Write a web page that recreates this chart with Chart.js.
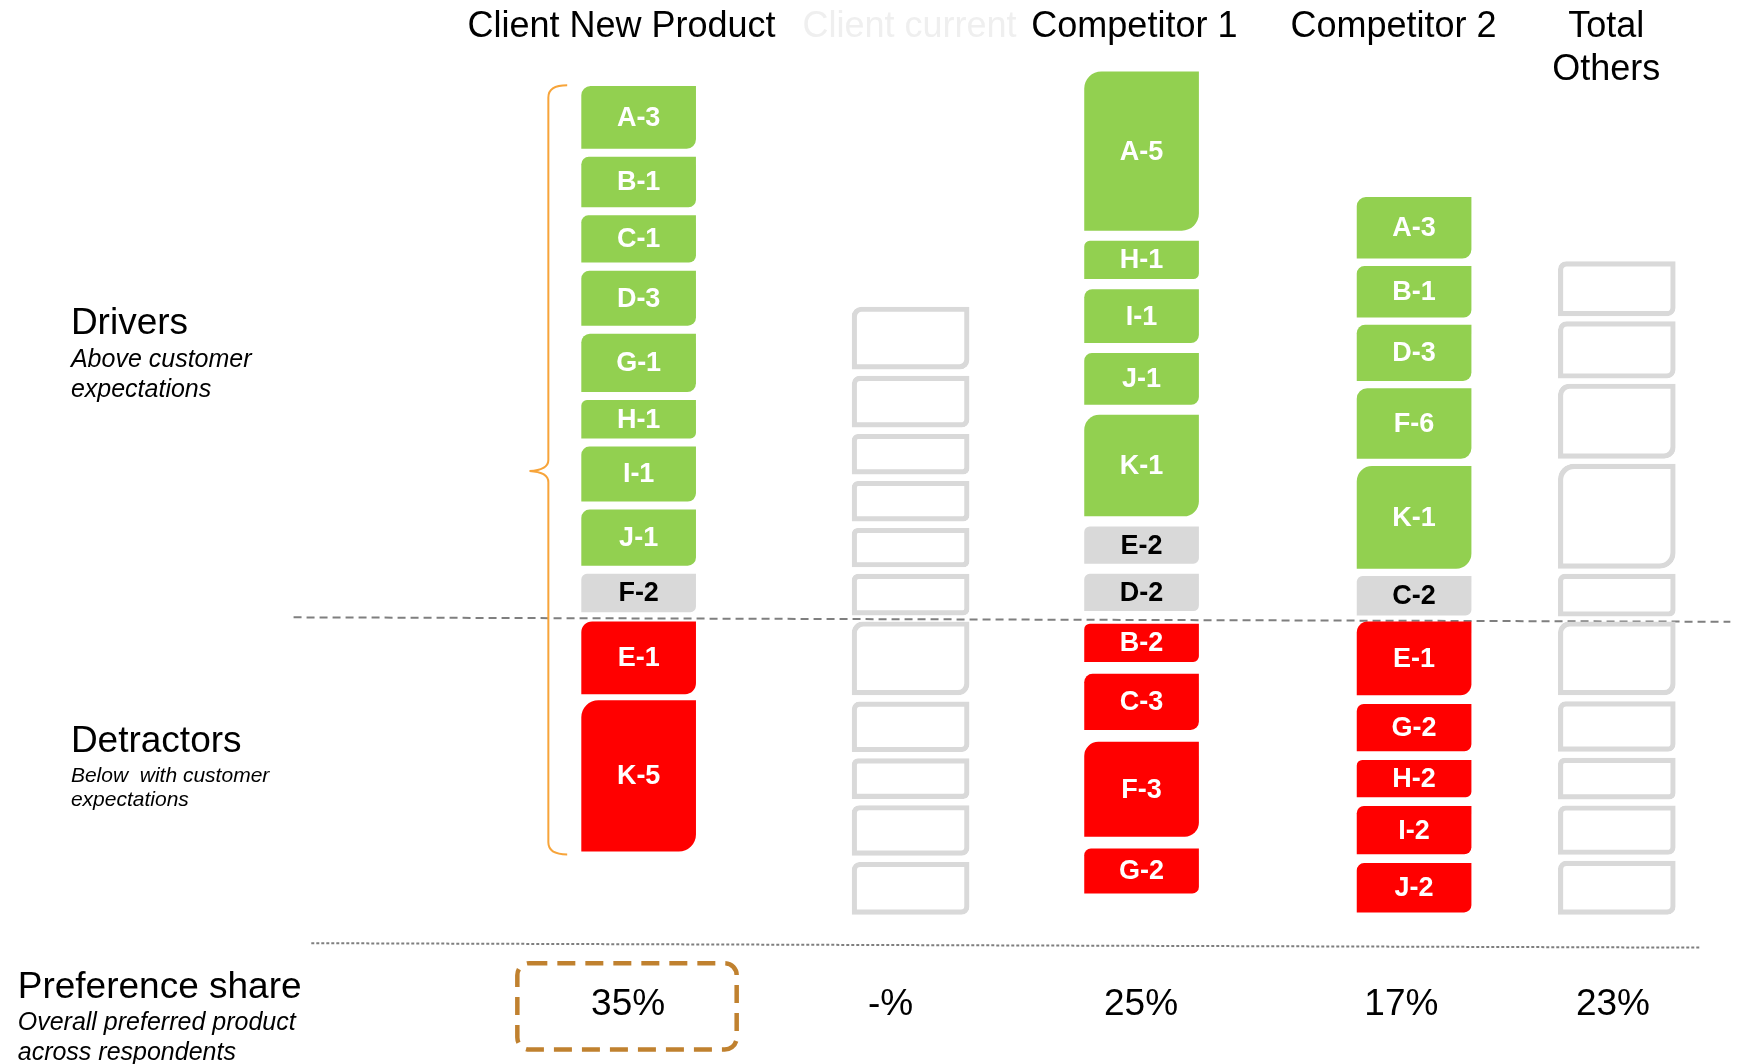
<!DOCTYPE html>
<html>
<head>
<meta charset="utf-8">
<script src="https://cdn.jsdelivr.net/npm/chart.js@4/dist/chart.umd.min.js"></script>
<style>
  html, body { margin: 0; background: #fff; }
  #wrap { width: 1737px; height: 1064px; }
</style>
</head>
<body>
<div id="wrap"><canvas id="chart"></canvas></div>
<script>
const columns = ['Client New Product', 'Client current', 'Competitor 1', 'Competitor 2', ['Total', 'Others']];
const shares = ['35%', '-%', '25%', '17%', '23%'];

// tiles top -> bottom. kind: g = driver, n = neutral, r = detractor
const newLabels = ['A-3', 'B-1', 'C-1', 'D-3', 'G-1', 'H-1', 'I-1', 'J-1', 'F-2', 'E-1', 'K-5'];
const newSizes  = [56, 45, 42, 49, 52, 34, 49, 50, 34, 65, 136];
const newKinds  = ['g', 'g', 'g', 'g', 'g', 'g', 'g', 'g', 'n', 'r', 'r'];

const currentLabels = ['', '', '', '', '', '', '', '', '', '', ''];
const currentSizes  = [56, 46, 36, 36, 35, 37, 66, 45, 36, 45, 47];
const currentKinds  = ['g', 'g', 'g', 'g', 'g', 'g', 'r', 'r', 'r', 'r', 'r'];

const comp1Labels = ['A-5', 'H-1', 'I-1', 'J-1', 'K-1', 'E-2', 'D-2', 'B-2', 'C-3', 'F-3', 'G-2'];
const comp1Sizes  = [143, 34, 48, 46, 91, 33, 33, 34, 50, 85, 40];
const comp1Kinds  = ['g', 'g', 'g', 'g', 'g', 'n', 'n', 'r', 'r', 'r', 'r'];

const comp2Labels = ['A-3', 'B-1', 'D-3', 'F-6', 'K-1', 'C-2', 'E-1', 'G-2', 'H-2', 'I-2', 'J-2'];
const comp2Sizes  = [55, 46, 50, 63, 92, 35, 66, 42, 33, 43, 44];
const comp2Kinds  = ['g', 'g', 'g', 'g', 'g', 'n', 'r', 'r', 'r', 'r', 'r'];

const othersLabels = ['', '', '', '', '', '', '', '', '', ''];
const othersSizes  = [49, 51, 67, 94, 38, 66, 45, 37, 44, 48];
const othersKinds  = ['g', 'g', 'g', 'g', 'g', 'r', 'r', 'r', 'r', 'r'];

// ---- layout (in units of a 1568 x 960 page) ----
const W = 1568, H = 960;
const colX = [576.5, 822, 1030.5, 1276.5, 1459.5];
const hollow = [false, true, false, false, true];
const upBase = [552, 555, 551, 555, 556];
const downBase = [561, 561, 563, 561, 561];
const gapUp = [7.9, 6.4, 9.7, 7.2, 5.25];
const gapDown = [6, 6.25, 11.3, 8.5, 6];
const headX = [561, 821, 1024, 1258, 1450];
const headColor = ['#000', '#efefef', '#000', '#000', '#000'];
const shareX = [567, 804, 1030, 1265, 1456];
const fills = { g: '#92d050', n: '#d9d9d9', r: '#ff0000' };
const FONT = '"Liberation Sans", Arial, sans-serif';

const series = [
  [newLabels, newSizes, newKinds],
  [currentLabels, currentSizes, currentKinds],
  [comp1Labels, comp1Sizes, comp1Kinds],
  [comp2Labels, comp2Sizes, comp2Kinds],
  [othersLabels, othersSizes, othersKinds],
];

function stackTiles(sizes, kinds, c) {
  const out = new Array(sizes.length);
  const up = [], down = [];
  sizes.forEach((s, i) => (kinds[i] === 'r' ? down : up).push(i));
  let y = upBase[c];
  for (let j = up.length - 1; j >= 0; j--) {
    const i = up[j];
    out[i] = { x: colX[c], y: [y - sizes[i], y] };
    y -= sizes[i] + gapUp[c];
  }
  y = downBase[c];
  down.forEach(i => {
    out[i] = { x: colX[c], y: [y, y + sizes[i]] };
    y += sizes[i] + gapDown[c];
  });
  return out;
}

const datasets = series.map(([labels, sizes, kinds], c) => ({
  label: Array.isArray(columns[c]) ? columns[c].join(' ') : columns[c],
  data: stackTiles(sizes, kinds, c),
  tileLabels: labels,
  tileKinds: kinds,
  backgroundColor: hollow[c] ? 'rgba(0,0,0,0)' : kinds.map(k => fills[k]),
  borderColor: '#d9d9d9',
  borderWidth: hollow[c] ? 4.5 : 0,
  borderSkipped: false,
  barThickness: hollow[c] ? 117 : 114,
  grouped: false,
  borderRadius: ctx => {
    const ys = ctx.chart.scales.y;
    const h = Math.abs(ys.getPixelForValue(0) - ys.getPixelForValue(sizes[ctx.dataIndex] || 0));
    const r = Math.min(h, 114) * 0.15;
    return { topLeft: r, topRight: 0, bottomLeft: 0, bottomRight: r };
  },
}));

function text(ctx, s, x, y, font, color, align) {
  ctx.font = font;
  ctx.fillStyle = color;
  ctx.textAlign = align || 'left';
  ctx.textBaseline = 'middle';
  ctx.fillText(s, x, y);
}

const decor = {
  id: 'decor',
  beforeDatasetsDraw(chart) {
    const { ctx, scales: { x, y } } = chart;
    ctx.save();
    ctx.strokeStyle = '#7f7f7f';
    ctx.lineWidth = 2;
    ctx.setLineDash([8, 5]);
    ctx.beginPath();
    ctx.moveTo(x.getPixelForValue(265), y.getPixelForValue(557));
    ctx.lineTo(x.getPixelForValue(1562), y.getPixelForValue(561));
    ctx.stroke();
    ctx.setLineDash([3, 2]);
    ctx.beginPath();
    ctx.moveTo(x.getPixelForValue(281), y.getPixelForValue(851));
    ctx.lineTo(x.getPixelForValue(1535), y.getPixelForValue(855));
    ctx.stroke();
    ctx.restore();
  },
  afterDatasetsDraw(chart) {
    const { ctx } = chart;
    ctx.save();
    chart.data.datasets.forEach((ds, d) => {
      chart.getDatasetMeta(d).data.forEach((el, i) => {
        const s = ds.tileLabels[i];
        if (!s) return;
        const col = ds.tileKinds[i] === 'n' ? '#000' : '#fff';
        text(ctx, s, el.x, (el.y + el.base) / 2 + 1, 'bold 27px ' + FONT, col, 'center');
      });
    });
    ctx.restore();
  },
  afterDraw(chart) {
    const { ctx, scales: { x, y } } = chart;
    const X = v => x.getPixelForValue(v), Y = v => y.getPixelForValue(v);
    ctx.save();

    // column headers
    columns.forEach((c, i) => {
      const lines = Array.isArray(c) ? c : [c];
      lines.forEach((l, k) => text(ctx, l, X(headX[i]), Y(24 + k * 39), '36px ' + FONT, headColor[i], 'center'));
    });

    // left side captions
    text(ctx, 'Drivers', X(64), Y(292), '37px ' + FONT, '#000');
    text(ctx, 'Above customer', X(64), Y(325), 'italic 25px ' + FONT, '#000');
    text(ctx, 'expectations', X(64), Y(352), 'italic 25px ' + FONT, '#000');
    text(ctx, 'Detractors', X(64), Y(669), '37px ' + FONT, '#000');
    text(ctx, 'Below  with customer', X(64), Y(700), 'italic 21px ' + FONT, '#000');
    text(ctx, 'expectations', X(64), Y(722), 'italic 21px ' + FONT, '#000');
    text(ctx, 'Preference share', X(16), Y(891), '37px ' + FONT, '#000');
    text(ctx, 'Overall preferred product', X(16), Y(923), 'italic 25px ' + FONT, '#000');
    text(ctx, 'across respondents', X(16), Y(950), 'italic 25px ' + FONT, '#000');

    // preference share values
    shares.forEach((s, i) => text(ctx, s, X(shareX[i]), Y(907), '37px ' + FONT, '#000', 'center'));

    // dashed highlight box
    ctx.strokeStyle = '#c0812f';
    ctx.lineWidth = 4.5;
    ctx.setLineDash([18, 10]);
    ctx.beginPath();
    ctx.roundRect(X(467), Y(869), X(665) - X(467), Y(947) - Y(869), 12);
    ctx.stroke();
    ctx.setLineDash([]);

    // orange brace
    ctx.strokeStyle = '#f7a43a';
    ctx.lineWidth = 2;
    ctx.beginPath();
    ctx.moveTo(X(512), Y(77));
    ctx.quadraticCurveTo(X(495), Y(77), X(495), Y(88));
    ctx.lineTo(X(495), Y(415));
    ctx.quadraticCurveTo(X(495), Y(424), X(478), Y(425));
    ctx.quadraticCurveTo(X(495), Y(426), X(495), Y(435));
    ctx.lineTo(X(495), Y(760));
    ctx.quadraticCurveTo(X(495), Y(771), X(512), Y(771));
    ctx.stroke();
    ctx.restore();
  },
};

new Chart(document.getElementById('chart'), {
  type: 'bar',
  data: { datasets },
  options: {
    responsive: true,
    maintainAspectRatio: false,
    animation: false,
    layout: { padding: 0 },
    plugins: { legend: { display: false }, tooltip: { enabled: false } },
    scales: {
      x: { type: 'linear', min: 0, max: W, offset: false, display: false },
      y: { type: 'linear', min: 0, max: H, reverse: true, display: false },
    },
  },
  plugins: [decor],
});
</script>
</body>
</html>
